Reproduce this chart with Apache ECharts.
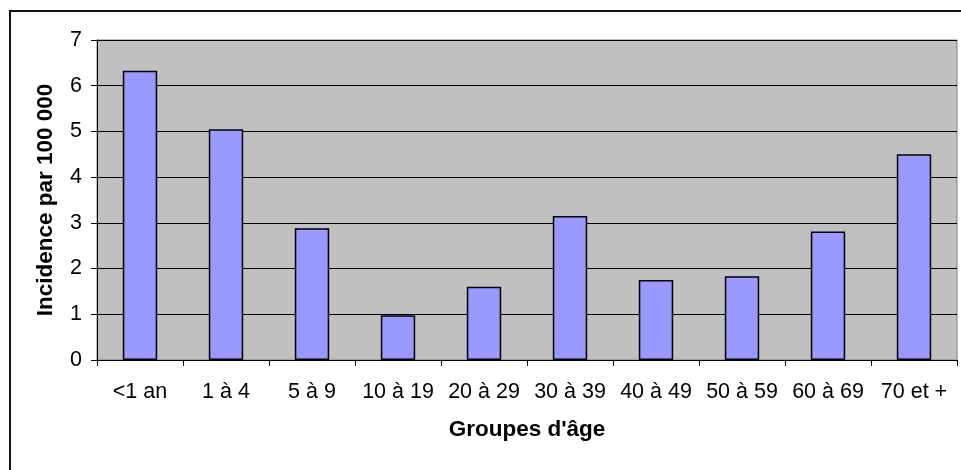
<!DOCTYPE html>
<html>
<head>
<meta charset="utf-8">
<script src="https://cdn.jsdelivr.net/npm/echarts@6/dist/echarts.min.js"></script>
<style>
  html, body { margin: 0; padding: 0; background: #fff; }
  #main { width: 961px; height: 470px; }
</style>
</head>
<body>
<div id="main"></div>
<script>
// groupes d'âge
const categories = ["<1 an", "1 à 4", "5 à 9", "10 à 19", "20 à 29", "30 à 39", "40 à 49", "50 à 59", "60 à 69", "70 et +"];
// incidence par 100 000
const incidence = [6.33, 5.05, 2.88, 0.98, 1.6, 3.15, 1.75, 1.83, 2.81, 4.5];
const yTicks = [0, 1, 2, 3, 4, 5, 6, 7];

const font = 'Arial, "Liberation Sans", sans-serif';

const chart = echarts.init(document.getElementById("main"));

chart.setOption({
  animation: false,
  backgroundColor: "#fff",
  graphic: [
    {
      type: "rect",
      shape: { x: 10, y: 11, width: 980, height: 500 },
      style: { fill: "none", stroke: "#111", lineWidth: 2 },
      silent: true,
    },
  ],
  grid: {
    left: 97,
    top: 40,
    right: 4,
    bottom: 110,
    show: true,
    backgroundColor: "#c0c0c0",
    borderColor: "#808080",
    borderWidth: 1,
  },
  xAxis: {
    type: "category",
    data: categories,
    name: "Groupes d'âge",
    nameLocation: "middle",
    nameGap: 58,
    nameTextStyle: { fontFamily: font, fontSize: 22.5, fontWeight: "bold", color: "#000" },
    axisLine: { lineStyle: { color: "#000", width: 1 } },
    axisTick: { show: true, length: 6, lineStyle: { color: "#000" } },
    axisLabel: { fontFamily: font, fontSize: 21.5, color: "#000", margin: 21, interval: 0 },
  },
  yAxis: {
    type: "value",
    min: yTicks[0],
    max: yTicks[yTicks.length - 1],
    interval: 1,
    name: "Incidence par 100 000",
    nameLocation: "middle",
    nameGap: 40,
    nameTextStyle: { fontFamily: font, fontSize: 22.5, fontWeight: "bold", color: "#000" },
    axisLine: { show: true, lineStyle: { color: "#000", width: 1 } },
    axisTick: { show: true, length: 6, lineStyle: { color: "#000" } },
    axisLabel: { fontFamily: font, fontSize: 21.5, color: "#000", margin: 15 },
    splitLine: { show: true, lineStyle: { color: "#000", width: 1 } },
  },
  series: [
    {
      type: "bar",
      data: incidence,
      barCategoryGap: "60%",
      itemStyle: { color: "#9999ff", borderColor: "#000", borderWidth: 1.5 },
    },
  ],
});
</script>
</body>
</html>
